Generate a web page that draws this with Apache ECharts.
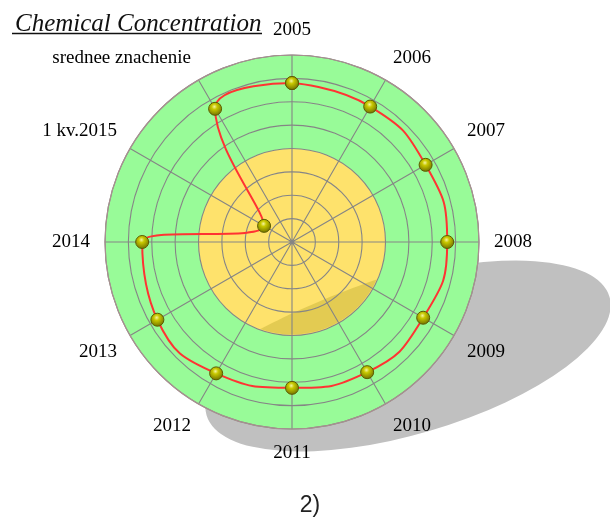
<!DOCTYPE html>
<html>
<head>
<meta charset="utf-8">
<script src="https://cdn.jsdelivr.net/npm/echarts@6/dist/echarts.min.js"></script>
<style>
  html, body { margin: 0; padding: 0; background: #fff; }
  #grafico_radar { width: 610px; height: 520px; }
</style>
</head>
<body>
<div id="grafico_radar"></div>
<script>
// categorias (en sentido horario desde arriba)
var categorias = ["2005", "2006", "2007", "2008", "2009", "2010", "2011",
                  "2012", "2013", "2014", "1 kv.2015", "srednee znachenie"];
var valores = [6.8, 6.69, 6.6, 6.64, 6.48, 6.43, 6.24, 6.49, 6.65, 6.41, 1.38, 6.58];
var radioMax = 8;
var bandas = ["#FEE26C", "#FEE26C", "#FEE26C", "#FEE26C",
              "#98FB98", "#98FB98", "#98FB98", "#98FB98"];

var paso = 360 / categorias.length;
var puntos = valores.map(function (v, i) { return [v, i * paso]; });
puntos.push([valores[0], 360]); // cerrar la curva

// brillo oscuro dentro del disco amarillo (decorativo)
var cx = 292, cy = 242, rAm = 92.5;
var brillo = [];
for (var a = 24; a <= 110; a += 2) {
  var t = a * Math.PI / 180;
  brillo.push([cx + rAm * Math.cos(t), cy + rAm * Math.sin(t)]);
}
var p0 = brillo[brillo.length - 1], p2 = brillo[0], pc = [319, 299];
for (var k = 1; k < 20; k++) {
  var u = k / 20;
  brillo.push([
    (1 - u) * (1 - u) * p0[0] + 2 * u * (1 - u) * pc[0] + u * u * p2[0],
    (1 - u) * (1 - u) * p0[1] + 2 * u * (1 - u) * pc[1] + u * u * p2[1]
  ]);
}

var lineaGris = { color: "#858585", width: 1.1, type: "solid" };

/*TODO:Grafico polar*/
echarts.init(document.querySelector("#grafico_radar")).setOption({
  animation: false,
  title: {
    text: "Chemical Concentration",
    left: 10,
    top: 7,
    textStyle: {
      fontFamily: "Liberation Serif",
      fontStyle: "italic",
      fontWeight: "normal",
      fontSize: 25,
      color: "#111"
    }
  },
  // polar 0: fondo de bandas, polar 1: rejilla, etiquetas y serie
  polar: [
    { center: [cx, cy], radius: 187 },
    { center: [cx, cy], radius: 187 }
  ],
  angleAxis: [
    {
      polarIndex: 0,
      type: "value", min: 0, max: 360, interval: paso,
      startAngle: 90, clockwise: true,
      axisLine: { show: false }, axisTick: { show: false },
      axisLabel: { show: false }, splitLine: { show: false },
      z: 0
    },
    {
      polarIndex: 1,
      type: "value", min: 0, max: 360, interval: paso,
      startAngle: 90, clockwise: true,
      axisLine: { show: true, lineStyle: { color: "#a89090", width: 1.2 } },
      axisTick: { show: false },
      splitLine: { show: true, lineStyle: lineaGris },
      axisLabel: {
        margin: 15,
        fontFamily: "Liberation Serif",
        fontSize: 19,
        color: "#000",
        formatter: function (v) { return categorias[Math.round(v / paso)] || ""; }
      },
      z: 2
    }
  ],
  radiusAxis: [
    {
      polarIndex: 0,
      type: "value", min: 0, max: radioMax, interval: 1,
      axisLine: { show: false }, axisTick: { show: false },
      axisLabel: { show: false }, splitLine: { show: false },
      splitArea: { show: true, areaStyle: { color: bandas } },
      z: 0
    },
    {
      polarIndex: 1,
      type: "value", min: 0, max: radioMax, interval: 1,
      axisLine: { show: false }, axisTick: { show: false },
      axisLabel: { show: false },
      splitLine: { show: true, lineStyle: lineaGris },
      splitArea: { show: false },
      z: 2
    }
  ],
  graphic: [
    { // sombra
      type: "circle",
      x: 408, y: 356,
      rotation: 16.4 * Math.PI / 180,
      scaleX: 210 / 78,
      shape: { cx: 0, cy: 0, r: 78 },
      style: { fill: "#c0c0c0" },
      z: -10,
      silent: true
    },
    {
      type: "polygon",
      shape: { points: brillo },
      style: { fill: "#E3CB52" },
      z: 1,
      silent: true
    },
    {
      type: "line",
      shape: { x1: 12, y1: 33.5, x2: 262, y2: 33.5 },
      style: { stroke: "#111", lineWidth: 1.3 },
      silent: true
    },
    {
      type: "text",
      x: 310, y: 506,
      style: {
        text: "2)",
        fontFamily: "Liberation Sans",
        fontSize: 23,
        fill: "#222",
        textAlign: "center",
        textVerticalAlign: "middle"
      },
      silent: true
    }
  ],
  series: [
    {
      type: "line",
      coordinateSystem: "polar",
      polarIndex: 1,
      smooth: 0.5,
      data: puntos,
      symbol: "circle",
      symbolSize: 13,
      showAllSymbol: true,
      lineStyle: { color: "#ff3333", width: 2 },
      itemStyle: {
        color: {
          type: "radial", x: 0.45, y: 0.35, r: 0.65,
          colorStops: [
            { offset: 0, color: "#f4f4a0" },
            { offset: 0.3, color: "#c8c800" },
            { offset: 1, color: "#6e6e00" }
          ]
        },
        borderColor: "#5c5c00",
        borderWidth: 1
      },
      z: 3
    }
  ]
});
</script>
</body>
</html>
